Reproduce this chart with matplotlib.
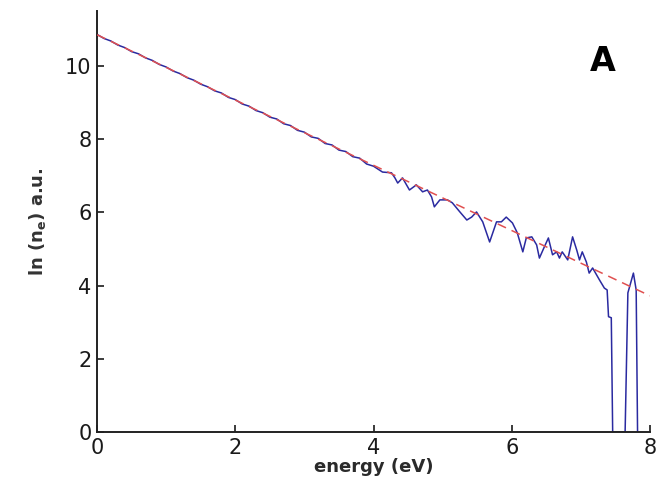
import matplotlib
matplotlib.use("Agg")
import matplotlib.pyplot as plt
import numpy as np

# Measured spectrum: energy (eV) and ln(n_e)
energy = [0.0, 0.1, 0.2, 0.3, 0.4, 0.5, 0.6, 0.7, 0.8, 0.9,
          1.0, 1.1, 1.2, 1.3, 1.4, 1.5, 1.6, 1.7, 1.8, 1.9,
          2.0, 2.1, 2.2, 2.3, 2.4, 2.5, 2.6, 2.7, 2.8, 2.9,
          3.0, 3.1, 3.2, 3.3, 3.4, 3.5, 3.6, 3.7, 3.8, 3.9,
          4.0, 4.13, 4.26, 4.31, 4.35, 4.42, 4.52, 4.62, 4.71, 4.78,
          4.84, 4.88, 4.96, 5.07, 5.14, 5.25, 5.35, 5.42, 5.49, 5.58,
          5.68, 5.78, 5.85, 5.92, 6.01, 6.08, 6.16, 6.21, 6.29, 6.36,
          6.40, 6.47, 6.53, 6.59, 6.65, 6.69, 6.73, 6.81, 6.88, 6.94,
          6.98, 7.02, 7.08, 7.12, 7.17, 7.27, 7.34, 7.38, 7.40, 7.44,
          7.46, 7.64, 7.68, 7.76, 7.80, 7.82]
ln_ne = [10.86, 10.75, 10.68, 10.57, 10.50, 10.39, 10.33, 10.22, 10.15, 10.04,
         9.97, 9.86, 9.79, 9.68, 9.61, 9.50, 9.43, 9.32, 9.26, 9.14,
         9.08, 8.96, 8.90, 8.78, 8.72, 8.60, 8.55, 8.42, 8.37, 8.24,
         8.19, 8.06, 8.02, 7.88, 7.84, 7.70, 7.66, 7.52, 7.48, 7.32,
         7.26, 7.10, 7.08, 6.94, 6.80, 6.94, 6.61, 6.75, 6.56, 6.61,
         6.42, 6.15, 6.34, 6.34, 6.26, 6.01, 5.79, 5.87, 6.01, 5.74,
         5.19, 5.74, 5.74, 5.87, 5.71, 5.44, 4.92, 5.30, 5.33, 5.11,
         4.75, 5.05, 5.30, 4.84, 4.92, 4.75, 4.92, 4.70, 5.33, 4.97,
         4.70, 4.92, 4.64, 4.34, 4.48, 4.15, 3.93, 3.88, 3.15, 3.12,
         0.0, 0.0, 3.80, 4.34, 3.88, 0.0]

# Linear fit endpoints
fit_energy = [0.0, 8.0]
fit_ln_ne = [10.85, 3.72]

x_ticks = [0, 2, 4, 6, 8]
y_ticks = [0, 2, 4, 6, 8, 10]

fig = plt.figure(figsize=(6.71, 4.90), dpi=100)
ax = fig.add_axes([0.1446, 0.1184, 0.8241, 0.8592])

ax.plot(energy, ln_ne, color="#2a2aa0", lw=1.1, zorder=2)
ax.plot(fit_energy, fit_ln_ne, color="#e05050", lw=1.1, ls=(0, (6, 4)), zorder=3)

ax.set_xlim(0, 8)
ax.set_ylim(0, 11.5)
ax.set_xticks(x_ticks)
ax.set_yticks(y_ticks)
for s in ["top", "right"]:
    ax.spines[s].set_visible(False)
for s in ["left", "bottom"]:
    ax.spines[s].set_linewidth(1.4)
    ax.spines[s].set_color("#222222")
ax.tick_params(direction="in", length=5, width=1.2, labelsize=15, colors="#1a1a1a", pad=4)

ax.set_xlabel("energy (eV)", fontsize=13, fontweight="bold", color="#2a2a2a", labelpad=0)
ax.set_ylabel(r"ln (n$_\mathbf{e}$) a.u.", fontsize=13, fontweight="bold", color="#333333",
              labelpad=12)

ax.text(0.915, 0.879, "A", transform=ax.transAxes, fontsize=24, fontweight="bold",
        ha="center", va="center", color="black")

fig.savefig("out.png", dpi=100)
